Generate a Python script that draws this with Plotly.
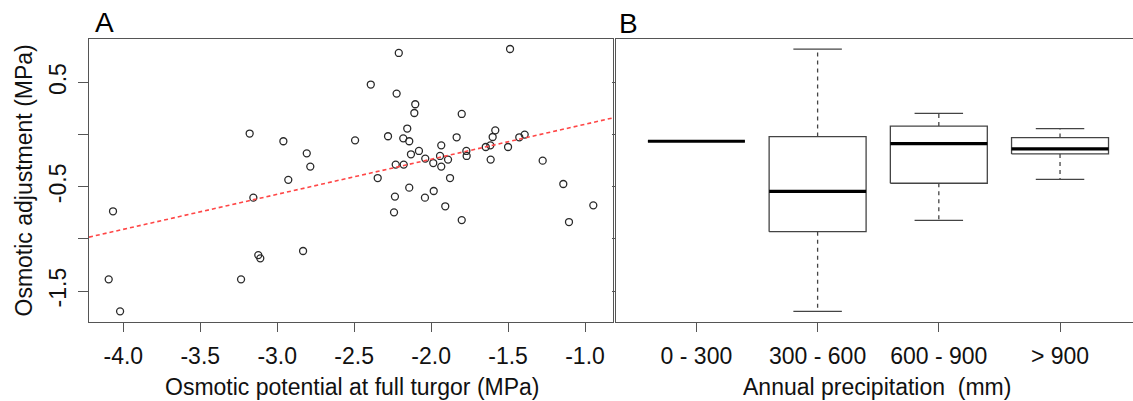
import plotly.graph_objects as go

# ---------------- data ----------------
# Panel A: osmotic potential at full turgor (MPa) vs osmotic adjustment (MPa)
potential = [-2.210, -1.487, -2.392, -2.224, -2.103, -2.109, -1.801, -2.494, -2.280, -2.181,
             -2.155, -2.142, -1.834, -1.583, -1.600, -1.427, -1.392, -1.645, -1.615, -1.500,
             -1.934, -1.771, -1.769, -2.131, -2.079, -2.038, -1.986, -1.942, -1.934, -1.890,
             -2.230, -2.178, -1.613, -1.275, -2.347, -1.877, -3.179, -2.960, -2.808, -2.785,
             -2.928, -3.155, -4.067, -4.095, -4.021, -3.235, -3.123, -3.110, -2.832, -2.235,
             -2.241, -2.142, -2.040, -1.983, -1.908, -1.801, -1.141, -1.104, -0.946]
adjustment = [0.784, 0.822, 0.481, 0.394, 0.292, 0.208, 0.199, -0.054, -0.015, -0.035,
              0.059, -0.063, -0.025, 0.042, -0.022, -0.025, 0.001, -0.118, -0.102, -0.118,
              -0.102, -0.156, -0.204, -0.188, -0.156, -0.229, -0.272, -0.204, -0.306, -0.239,
              -0.287, -0.287, -0.239, -0.249, -0.416, -0.416, 0.011, -0.063, -0.179, -0.306,
              -0.433, -0.604, -0.735, -1.388, -1.695, -1.388, -1.155, -1.186, -1.116, -0.594,
              -0.745, -0.508, -0.604, -0.540, -0.687, -0.819, -0.473, -0.838, -0.678]
fit_intercept = 0.436
fit_slope = 0.336

# Panel B: box statistics per precipitation class
precip_classes = ["0 - 300", "300 - 600", "600 - 900", "> 900"]
whisker_low = [-0.063, -1.695, -0.822, -0.428]
q1 = [-0.063, -0.930, -0.466, -0.185]
median = [-0.063, -0.543, -0.085, -0.137]
q3 = [-0.063, -0.018, 0.083, -0.028]
whisker_high = [-0.063, 0.820, 0.205, 0.059]

x_ticks_a = [-4.0, -3.5, -3.0, -2.5, -2.0, -1.5, -1.0]
y_ticks = [0.5, 0.0, -0.5, -1.0, -1.5]
y_ticktext = ["0.5", "", "-0.5", "", "-1.5"]

# ---------------- layout constants ----------------
W, H = 1133, 401
ML, MR, MT, MB = 89, 0, 39, 79
PW, PH = W - ML - MR, H - MT - MB
FONT = "Liberation Sans, Arial, sans-serif"
FG = "#444444"
xr_a = [-4.223, -0.820]
yr = [-1.797, 0.918]
xr_b = [0.335, 4.602]
box_half = 0.4
cap_half = 0.2


def px_x(p):
    return (p - ML) / PW


def px_y(p):
    return (H - MB - p) / PH


fig = go.Figure()

# Panel A scatter
fig.add_trace(go.Scatter(
    x=potential, y=adjustment, mode="markers", xaxis="x", yaxis="y",
    marker=dict(symbol="circle-open", size=7, color="#2a2a2a", line=dict(width=1.3, color="#2a2a2a")),
    showlegend=False, hoverinfo="skip"))

# regression line (abline across full panel)
fig.add_trace(go.Scatter(
    x=xr_a, y=[fit_intercept + fit_slope * v for v in xr_a], mode="lines",
    xaxis="x", yaxis="y", line=dict(color="rgb(255,70,70)", width=1.6, dash="4px,3px"),
    showlegend=False, hoverinfo="skip"))

# Panel B boxes built from the stats
pos = list(range(1, len(precip_classes) + 1))
bx, by, mx, my, wx, wy, cx, cy = [], [], [], [], [], [], [], []
for p, lo, a, m, b, hi in zip(pos, whisker_low, q1, median, q3, whisker_high):
    bx += [p - box_half, p + box_half, p + box_half, p - box_half, p - box_half, None]
    by += [a, a, b, b, a, None]
    mx += [p - box_half, p + box_half, None]
    my += [m, m, None]
    if hi > b:
        wx += [p, p, None]
        wy += [b, hi, None]
        cx += [p - cap_half, p + cap_half, None]
        cy += [hi, hi, None]
    if lo < a:
        wx += [p, p, None]
        wy += [a, lo, None]
        cx += [p - cap_half, p + cap_half, None]
        cy += [lo, lo, None]

fig.add_trace(go.Scatter(x=wx, y=wy, mode="lines", xaxis="x2", yaxis="y2",
                         line=dict(color=FG, width=1.3, dash="4px,4px"),
                         showlegend=False, hoverinfo="skip"))
fig.add_trace(go.Scatter(x=cx, y=cy, mode="lines", xaxis="x2", yaxis="y2",
                         line=dict(color=FG, width=1.3), showlegend=False, hoverinfo="skip"))
fig.add_trace(go.Scatter(x=bx, y=by, mode="lines", xaxis="x2", yaxis="y2",
                         line=dict(color=FG, width=1.3), showlegend=False, hoverinfo="skip"))
fig.add_trace(go.Scatter(x=mx, y=my, mode="lines", xaxis="x2", yaxis="y2",
                         line=dict(color="#000000", width=3.2), showlegend=False, hoverinfo="skip"))

axis_common = dict(showgrid=False, zeroline=False, showline=True, linecolor="#555555", linewidth=1.2,
                   ticks="outside", tickcolor="#555555", tickwidth=1.2,
                   tickfont=dict(family=FONT, size=23, color="#111111"))

dom_a = [0, px_x(612.7)]
dom_b = [px_x(615.8), 1]

fig.update_layout(
    width=W, height=H, margin=dict(l=ML, r=MR, t=MT, b=MB),
    paper_bgcolor="white", plot_bgcolor="white",
    font=dict(family=FONT, color="#111111"),
    xaxis=dict(axis_common, domain=dom_a, range=xr_a, mirror=True, tickvals=x_ticks_a,
               ticktext=[f"{v:.1f}" for v in x_ticks_a], ticklen=9, ticklabelstandoff=4),
    yaxis=dict(axis_common, range=yr, mirror=True, tickvals=y_ticks, ticktext=y_ticktext,
               tickangle=-90, ticklen=10, ticklabelstandoff=3),
    xaxis2=dict(axis_common, domain=dom_b, range=xr_b, mirror=True, anchor="y2",
                tickvals=pos, ticktext=precip_classes, ticklen=9, ticklabelstandoff=4),
    yaxis2=dict(axis_common, range=yr, anchor="x2", mirror=False, tickvals=y_ticks,
                showticklabels=False, ticklen=3),
    annotations=[
        dict(text="Osmotic potential at full turgor (MPa)", x=px_x(352.8), y=px_y(387),
             xref="paper", yref="paper", showarrow=False, xanchor="center", yanchor="middle",
             font=dict(family=FONT, size=23, color="#111111")),
        dict(text="Annual precipitation\u00a0\u00a0(mm)", x=px_x(876.7), y=px_y(387),
             xref="paper", yref="paper", showarrow=False, xanchor="center", yanchor="middle",
             font=dict(family=FONT, size=23, color="#111111")),
        dict(text="Osmotic adjustment (MPa)", x=px_x(23), y=px_y(180.5), textangle=-90,
             xref="paper", yref="paper", showarrow=False, xanchor="center", yanchor="middle",
             font=dict(family=FONT, size=23, color="#111111")),
        dict(text="A", x=px_x(93), y=px_y(22), xref="paper", yref="paper", showarrow=False,
             xanchor="left", yanchor="middle", font=dict(family=FONT, size=28, color="#000000")),
        dict(text="B", x=px_x(617), y=px_y(23), xref="paper", yref="paper", showarrow=False,
             xanchor="left", yanchor="middle", font=dict(family=FONT, size=28, color="#000000")),
    ],
)

fig.write_html("out.html")
